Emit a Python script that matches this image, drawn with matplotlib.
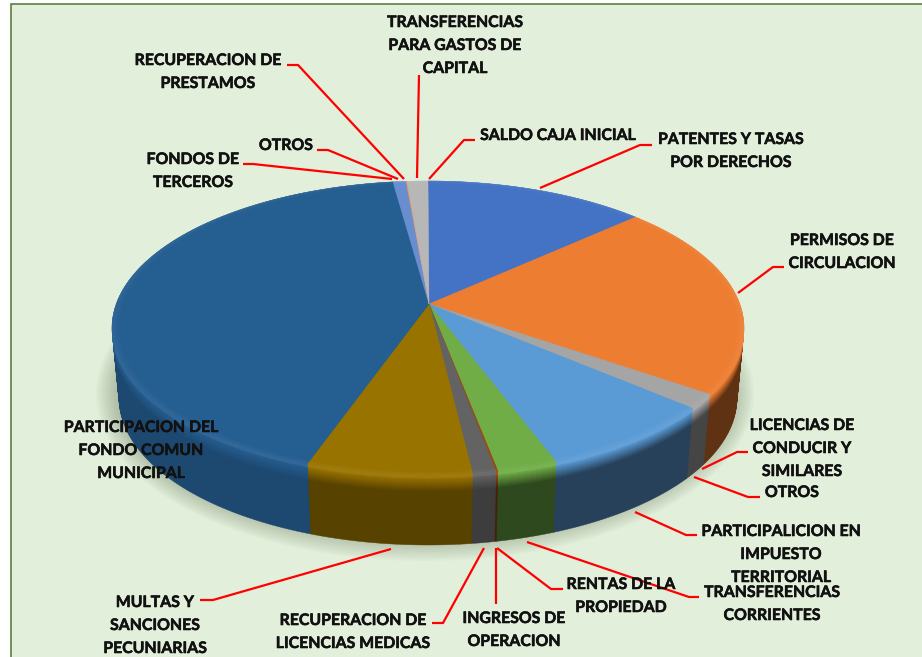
#!/usr/bin/env python3
"""Pseudo-3D pie of municipal income shares, drawn in pixel coordinates."""

import matplotlib

matplotlib.use("Agg")

import matplotlib.patheffects as pe
import matplotlib.pyplot as plt
import numpy as np
from matplotlib.patches import Ellipse, Rectangle

WIDTH, HEIGHT = 922, 657

# shares in percent, clockwise from twelve o'clock
categories = [
    "PATENTES Y TASAS\nPOR DERECHOS",
    "PERMISOS DE\nCIRCULACION",
    "LICENCIAS DE\nCONDUCIR Y\nSIMILARES",
    "OTROS",
    "PARTICIPALICION EN\nIMPUESTO\nTERRITORIAL",
    "TRANSFERENCIAS\nCORRIENTES",
    "RENTAS DE LA\nPROPIEDAD",
    "INGRESOS DE\nOPERACION",
    "RECUPERACION DE\nLICENCIAS MEDICAS",
    "MULTAS Y\nSANCIONES\nPECUNIARIAS",
    "PARTICIPACION DEL\nFONDO COMUN\nMUNICIPAL",
    "FONDOS DE\nTERCEROS",
    "OTROS",
    "RECUPERACION DE\nPRESTAMOS",
    "TRANSFERENCIAS\nPARA GASTOS DE\nCAPITAL",
    "SALDO CAJA INICIAL",
]
shares = [11.4, 21.05, 1.75, 0.0, 9.15, 3.1, 0.0, 0.1, 1.2, 8.5, 42.0, 0.0, 0.67, 0.05, 1.05, 0.0]
colors = [
    "#4472C4", "#ED7D31", "#A5A5A5", "#FFC000", "#5B9BD5", "#70AD47", "#264478", "#9E480E",
    "#636363", "#997300", "#255E91", "#43682B", "#698ED0", "#F1975A", "#B7B7B7", "#848484",
]
side_shade = [0.45, 0.40, 0.42, 0.4, 0.42, 0.42, 0.4, 0.45, 0.62, 0.57, 0.78, 0.4, 0.5, 0.5, 0.5, 0.5]

# label centre (x, first line y) and leader polyline, same order as categories
label_pos = [
    (731, 138), (842, 239), (802, 424), (792, 491), (781, 530), (772, 591), (621, 583), (514, 617),
    (353, 619), (155, 601), (141, 426), (193, 158), (286, 144), (208, 59), (455, 21), (558, 134),
]
leaders = [
    [(540, 188), (640, 145), (652, 145)],
    [(738, 293), (773, 267), (784, 267)],
    [(702, 469), (737, 452), (748, 452)],
    [(694, 477), (748, 497), (760, 497)],
    [(635, 512), (686, 535), (697, 535)],
    [(527, 542), (689, 597), (699, 597)],
    [(497, 548), (551, 589), (563, 589)],
    [(496, 548), (496, 604)],
    [(484, 548), (443, 623), (432, 623)],
    [(391, 549), (213, 600), (200, 600)],
    None,
    [(392, 179), (253, 164), (243, 164)],
    [(398, 179), (328, 150), (317, 150)],
    [(404, 179), (298, 65), (287, 65)],
    [(417, 178), (419, 75)],
    [(429, 179), (464, 140), (475, 140)],
]

APEX = (429, 304)
CENTER = (428, 328)
RADII = (316, 147)
BOTTOM_RADII = (309, 147)
DEPTH = 70


def rim(theta, depth=0.0):
    frac = depth / DEPTH
    rx = RADII[0] + (BOTTOM_RADII[0] - RADII[0]) * frac
    ry = RADII[1] + (BOTTOM_RADII[1] - RADII[1]) * frac
    return CENTER[0] + rx * np.sin(theta), CENTER[1] + depth - ry * np.cos(theta)


def draw_slice(ax, start, stop, color, depth=0.0, scale=1.0):
    theta = np.linspace(start, stop, max(2, int((stop - start) * 60)))
    x, y = rim(theta, depth)
    ax_, ay_ = APEX[0], APEX[1] + depth
    x = ax_ + (x - ax_) * scale
    y = ay_ + (y - ay_) * scale
    ax.fill(np.r_[ax_, x], np.r_[ay_, y], color=color, lw=0.3, zorder=3)


def mix(color, other, amount):
    return tuple(np.array(matplotlib.colors.to_rgb(color)) * (1 - amount) + np.array(other) * amount)


def side_color(color, shade, depth):
    dark = np.array(matplotlib.colors.to_rgb(color)) * shade
    if depth <= 3:
        return mix(color, (1, 1, 1), 0.06)
    if depth >= 17:
        return tuple(dark)
    frac = (depth - 3) / 14
    return tuple(np.array(matplotlib.colors.to_rgb(color)) * (1 - frac) + dark * frac)


def main():
    plt.rcParams["font.family"] = ["Lato", "DejaVu Sans"]
    fig = plt.figure(figsize=(WIDTH / 100, HEIGHT / 100), dpi=100, facecolor="white")
    ax = fig.add_axes([0, 0, 1, 1])
    ax.set_xlim(0, WIDTH)
    ax.set_ylim(HEIGHT, 0)
    ax.axis("off")

    ax.add_patch(Rectangle((10.5, 3.5), WIDTH, HEIGHT, fc="#E2EFDA", ec="#5B7F3F", lw=1.2, zorder=0))

    # soft shadow under the pie
    for grow in np.linspace(20, 0, 12):
        ax.add_patch(Ellipse((CENTER[0] - 3, CENTER[1] + DEPTH - 4),
                             2 * (BOTTOM_RADII[0] + grow), 2 * (BOTTOM_RADII[1] + grow),
                             fc="#55664A", ec="none", alpha=0.03, zorder=1))

    bounds = np.r_[0, np.cumsum(shares)] / np.sum(shares) * 2 * np.pi
    visible = [i for i, value in enumerate(shares) if value > 0]

    for depth in np.arange(DEPTH, -0.5, -1.0):
        for i in visible:
            draw_slice(ax, bounds[i], bounds[i + 1], side_color(colors[i], side_shade[i], depth), depth)

    for scale, amount in [(1.0, 0.05), (0.992, 0.03), (0.984, 0.015), (0.976, 0.0)]:
        for i in visible:
            draw_slice(ax, bounds[i], bounds[i + 1], mix(colors[i], (1, 1, 1), amount), scale=scale)

    for line in leaders:
        if line is None:
            continue
        xs, ys = zip(*line)
        ax.plot(xs, ys, color="#FF0000", lw=1.6, solid_capstyle="butt", zorder=4)

    stroke = [pe.withStroke(linewidth=0.4, foreground="#111111")]
    for label, (x, y) in zip(categories, label_pos):
        for k, part in enumerate(label.split("\n")):
            ax.text(x, y + 2 + 23 * k, part, ha="center", va="center", fontsize=11.4,
                    fontweight="bold", color="#111111", zorder=5, path_effects=stroke)

    fig.savefig("out.png", dpi=100, facecolor="white")
    plt.close(fig)


if __name__ == "__main__":
    main()
